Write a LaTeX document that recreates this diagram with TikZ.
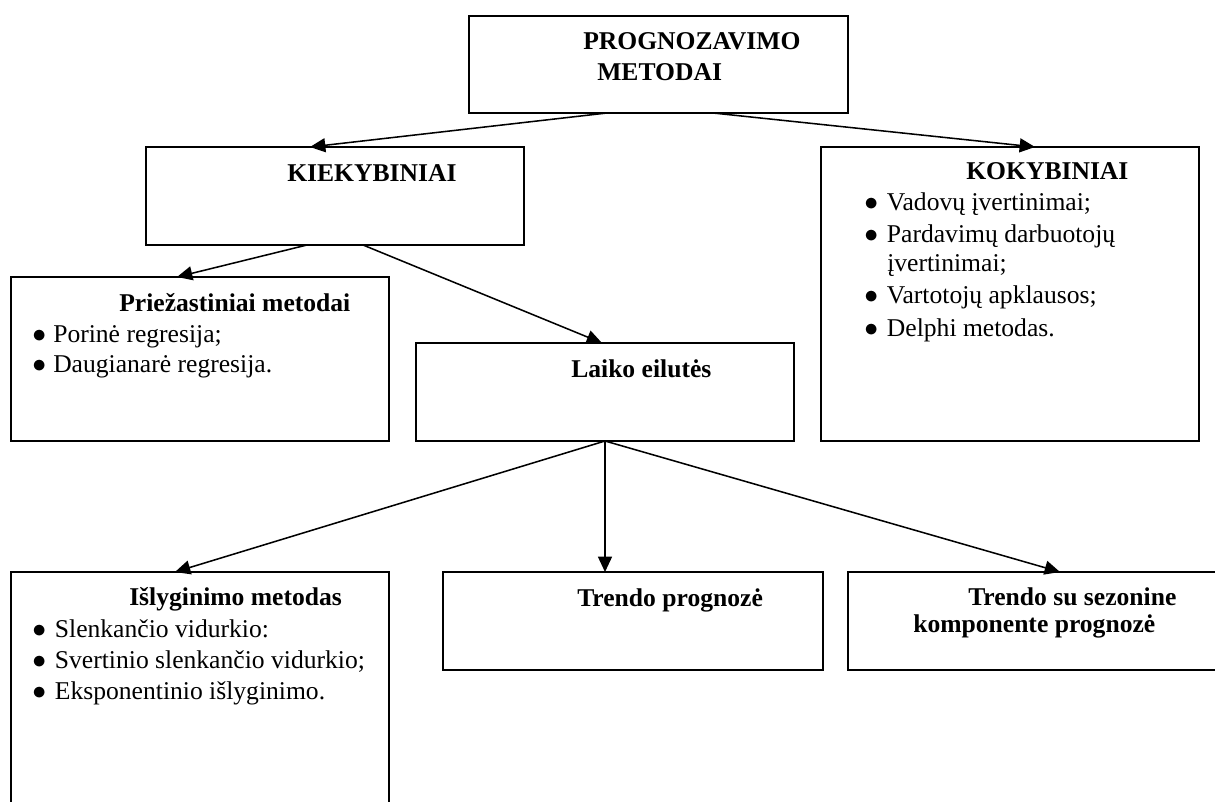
\documentclass[tikz,border=0pt]{standalone}
\usepackage{fontspec}
\setmainfont{Liberation Serif}
\usetikzlibrary{arrows.meta}
\newcommand{\bul}[1]{\makebox[#1][l]{$\bullet$}}
\begin{document}
\begin{tikzpicture}[x=0.75pt,y=-0.75pt,
  box/.style={draw, line width=1.4pt, fill=white, inner sep=0pt, outer sep=0pt, anchor=north west},
  txt/.style={inner sep=0pt, anchor=base west, font=\fontsize{19.2}{23}\selectfont},
  bt/.style={inner sep=0pt, anchor=base west, font=\fontsize{19.2}{23}\selectfont\bfseries},
  arr/.style={line width=1.15pt, -{Triangle[length=11.5pt,width=10.5pt]}}]
\clip (0,0) rectangle (1215,802);
\fill[white] (0,0) rectangle (1215,802);
% boxes
\node[box, minimum width=284.25pt, minimum height=72.75pt] (top) at (469,16) {};
\node[box, minimum width=283.5pt, minimum height=73.5pt] (kiek) at (146,147) {};
\node[box, minimum width=283.5pt, minimum height=220.5pt] (kok) at (821,147) {};
\node[box, minimum width=283.5pt, minimum height=123pt] (priez) at (11,277) {};
\node[box, minimum width=283.5pt, minimum height=73.5pt] (laiko) at (416,343) {};
\node[box, minimum width=283.5pt, minimum height=186pt] (isl) at (11,572) {};
\node[box, minimum width=285pt, minimum height=73.5pt] (trend) at (443,572) {};
\node[box, minimum width=282.75pt, minimum height=73.5pt] (tsez) at (848,572) {};
% connectors
\draw[arr] (top.south -| 607,0) -- (kiek.north -| 310,0);
\draw[arr] (top.south -| 713,0) -- (kok.north -| 1035,0);
\draw[arr] (kiek.south -| 307,0) -- (priez.north -| 177,0);
\draw[arr] (kiek.south -| 363,0) -- (laiko.north -| 602,0);
\draw[arr] (laiko.south -| 605,0) -- (isl.north -| 175,0);
\draw[arr] (laiko.south -| 605,0) -- (trend.north -| 605,0);
\draw[arr] (laiko.south -| 605,0) -- (tsez.north -| 1060,0);
% texts
\node[bt] (t1) at (583,50) {PROGNOZAVIMO};
\node[bt] (t2) at (597,81) {METODAI};
\node[bt] (t3) at (287,182) {KIEKYBINIAI};
\node[bt] (t4) at (966,180) {KOKYBINIAI};
\node[txt] (k1) at (864,211) {\bul{17pt}Vadovų įvertinimai;};
\node[txt] (k2) at (864,243) {\bul{17pt}Pardavimų darbuotojų};
\node[txt] (k3) at (887,272) {įvertinimai;};
\node[txt] (k4) at (864,304) {\bul{17pt}Vartotojų apklausos;};
\node[txt] (k5) at (864,337) {\bul{17pt}Delphi metodas.};
\node[bt] (t5) at (119,312) {Priežastiniai metodai};
\node[txt] (p1) at (32,343) {\bul{15.75pt}Porinė regresija;};
\node[txt] (p2) at (32,373) {\bul{15.75pt}Daugianarė regresija.};
\node[bt] (t6) at (571,378) {Laiko eilutės};
\node[bt] (t7) at (129,605) {Išlyginimo metodas};
\node[txt] (i1) at (32,637) {\bul{17pt}Slenkančio vidurkio:};
\node[txt] (i2) at (32,668) {\bul{17pt}Svertinio slenkančio vidurkio;};
\node[txt] (i3) at (32,699) {\bul{17pt}Eksponentinio išlyginimo.};
\node[bt] (t8) at (577,606) {Trendo prognozė};
\node[bt] (t9) at (968,605) {Trendo su sezonine};
\node[bt] (t10) at (913,632) {komponente prognozė};
\end{tikzpicture}
\end{document}
